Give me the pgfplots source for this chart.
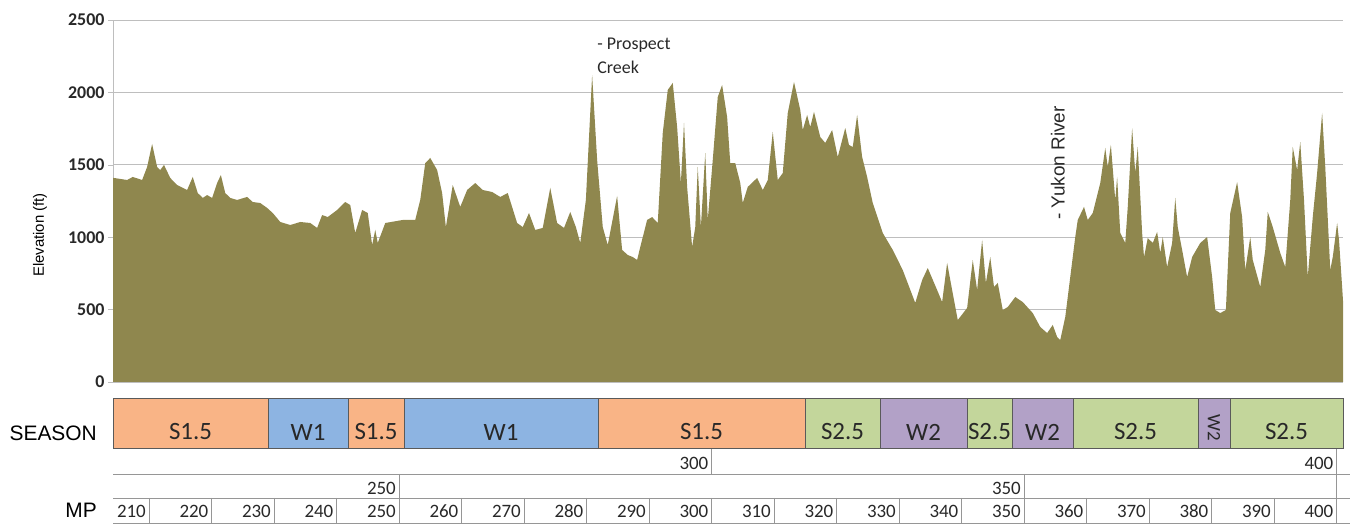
\documentclass[border=0pt]{standalone}
\usepackage{fontspec}
\setmainfont{Carlito}
\newfontfamily\arial{Liberation Sans}
\usepackage{pgfplots}
\pgfplotsset{compat=1.18}
\definecolor{terrain}{RGB}{143,135,78}
\definecolor{sOrange}{RGB}{249,180,134}
\definecolor{wBlue}{RGB}{141,180,226}
\definecolor{sGreen}{RGB}{195,214,155}
\definecolor{wPurple}{RGB}{178,161,199}
\definecolor{gridgray}{RGB}{190,190,190}
\definecolor{tablegray}{RGB}{150,150,150}
\definecolor{segborder}{RGB}{90,90,90}
\definecolor{txt}{RGB}{40,40,40}

\pgfplotstableread{
mp elev
204.24 1410
206.5 1395
207.4 1416
208.9 1395
209.7 1485
210.5 1644
211.3 1485
211.8 1464
212.4 1499
213.4 1409
214.5 1360
216.1 1326
217.0 1416
217.8 1305
218.6 1271
219.3 1291
220.1 1271
220.9 1374
221.5 1429
222.2 1305
223.0 1271
224.1 1257
225.7 1278
226.6 1243
227.8 1236
228.9 1202
229.8 1167
231.0 1105
232.6 1084
234.2 1105
235.8 1098
236.9 1064
237.7 1153
238.6 1139
240.1 1188
241.4 1243
242.2 1222
243.0 1029
244.1 1188
245.0 1167
245.7 946
246.2 1050
246.6 960
247.8 1098
250.6 1119
252.6 1119
253.4 1257
254.2 1512
255.0 1547
256.1 1464
256.9 1305
257.5 1070
258.6 1360
259.8 1209
260.9 1326
262.2 1374
263.4 1326
264.9 1312
266.2 1278
267.4 1305
268.9 1098
269.8 1070
270.8 1167
271.8 1050
273.0 1064
274.2 1340
275.3 1098
276.4 1064
277.4 1174
278.3 1070
279.0 960
279.9 1257
280.9 2120
281.7 1533
282.6 1070
283.4 946
284.9 1285
285.7 912
286.6 877
287.4 863
288.1 843
288.6 932
289.7 1119
290.5 1139
291.4 1098
292.2 1720
293.0 2017
293.8 2065
294.5 1761
295.1 1374
295.6 1789
296.1 1347
296.9 932
297.4 1070
297.8 1485
298.3 1070
299.0 1581
299.4 1119
300.2 1533
301.0 1968
301.7 2051
302.5 1830
303.0 1512
303.8 1512
304.6 1374
305.0 1236
305.8 1347
307.3 1409
308.2 1326
309.0 1395
309.8 1727
310.6 1395
311.4 1443
312.2 1858
313.2 2072
314.2 1879
314.6 1740
315.3 1844
315.8 1761
316.4 1865
317.4 1692
318.2 1651
319.3 1740
320.2 1554
321.4 1754
322.0 1637
322.6 1623
323.3 1844
324.1 1554
324.9 1416
325.8 1236
327.4 1029
329.0 912
330.6 773
332.6 546
333.7 704
334.6 787
336.1 635
336.9 552
337.7 822
338.5 635
339.4 428
340.9 511
341.8 842
342.5 635
343.3 981
343.9 684
344.6 863
345.2 656
345.8 684
346.6 497
347.4 518
348.6 587
349.8 552
351.4 476
352.6 380
353.7 338
354.6 394
355.3 311
355.8 290
356.6 449
357.4 725
358.2 1001
358.6 1119
359.6 1209
360.2 1119
361.0 1167
362.2 1374
363.0 1616
363.4 1485
363.9 1637
364.6 1257
364.9 1416
365.4 1029
366.2 960
366.6 1209
367.3 1754
367.8 1443
368.2 1623
368.9 1029
369.2 863
369.8 994
370.6 960
371.3 1036
371.8 891
372.2 1001
372.9 794
373.7 960
374.2 1271
374.6 1070
375.3 912
376.1 725
376.9 863
378.2 960
379.3 1001
380.1 725
380.6 497
381.4 476
382.3 497
383.0 1167
384.1 1381
384.9 1139
385.4 773
386.2 1001
386.6 843
387.8 656
388.6 912
389.0 1174
389.8 1070
391.0 891
391.8 794
392.6 1257
393.0 1623
393.7 1464
394.2 1657
394.8 1257
395.4 725
396.2 1139
396.9 1443
397.7 1858
398.2 1485
399.0 773
399.4 863
400.1 1098
400.4 981
400.9 656
401.04 560
}\profile

\begin{document}
\begin{tikzpicture}[x=1bp,y=1bp]
\useasboundingbox (0,0) rectangle (1361,525);

% y label
\node[rotate=90, font=\arial\fontsize{15}{15}\selectfont, text=black] at (40,290) {Elevation (ft)};

\begin{axis}[
  at={(113bp,143bp)}, anchor=south west,
  scale only axis, width=1230bp, height=362bp,
  xmin=204.24, xmax=401.04, ymin=0, ymax=2500,
  axis lines=left, axis line style={-, draw=gridgray},
  x axis line style={draw=none},
  xtick=\empty,
  ytick={0,500,1000,1500,2000,2500},
  yticklabels={0,500,1000,1500,2000,2500},
  ymajorgrids, major grid style={draw=gridgray, line width=0.8bp},
  tick style={draw=gridgray}, major tick length=5bp, tick align=outside,
  yticklabel style={font=\bfseries\fontsize{18}{18}\selectfont, text=txt},
  clip=false,
]
\addplot[fill=terrain, draw=none] table[x=mp, y=elev] {\profile} \closedcycle;
\node[anchor=base west, inner sep=0pt, font=\fontsize{18}{18}\selectfont, text=txt] at (axis cs:281.7,2293) {- Prospect};
\node[anchor=base west, inner sep=0pt, font=\fontsize{18}{18}\selectfont, text=txt] at (axis cs:281.7,2127) {Creek};
\node[rotate=90, inner sep=0pt, font=\arial\fontsize{19}{19}\selectfont, text=txt] at (axis cs:355.4,1512) {- Yukon River};
\end{axis}

\begin{axis}[
  at={(113bp,77bp)}, anchor=south west,
  scale only axis, width=1230bp, height=50bp,
  xmin=204.24, xmax=401.04, ymin=0, ymax=1,
  hide axis, clip=false,
]
\addplot[fill=sOrange, draw=segborder] coordinates {(204.24,0)(204.24,1)(229.04,1)(229.04,0)} -- cycle;
\addplot[fill=wBlue, draw=segborder] coordinates {(229.04,0)(229.04,1)(241.84,1)(241.84,0)} -- cycle;
\addplot[fill=sOrange, draw=segborder] coordinates {(241.84,0)(241.84,1)(250.8,1)(250.8,0)} -- cycle;
\addplot[fill=wBlue, draw=segborder] coordinates {(250.8,0)(250.8,1)(281.84,1)(281.84,0)} -- cycle;
\addplot[fill=sOrange, draw=segborder] coordinates {(281.84,0)(281.84,1)(314.96,1)(314.96,0)} -- cycle;
\addplot[fill=sGreen, draw=segborder] coordinates {(314.96,0)(314.96,1)(326.96,1)(326.96,0)} -- cycle;
\addplot[fill=wPurple, draw=segborder] coordinates {(326.96,0)(326.96,1)(340.88,1)(340.88,0)} -- cycle;
\addplot[fill=sGreen, draw=segborder] coordinates {(340.88,0)(340.88,1)(348.08,1)(348.08,0)} -- cycle;
\addplot[fill=wPurple, draw=segborder] coordinates {(348.08,0)(348.08,1)(357.84,1)(357.84,0)} -- cycle;
\addplot[fill=sGreen, draw=segborder] coordinates {(357.84,0)(357.84,1)(377.84,1)(377.84,0)} -- cycle;
\addplot[fill=wPurple, draw=segborder] coordinates {(377.84,0)(377.84,1)(382.96,1)(382.96,0)} -- cycle;
\addplot[fill=sGreen, draw=segborder] coordinates {(382.96,0)(382.96,1)(401.04,1)(401.04,0)} -- cycle;

\node[font=\fontsize{25}{25}\selectfont, text=txt] at (axis cs:216.64,0.32) {S1.5};
\node[font=\fontsize{25}{25}\selectfont, text=txt] at (axis cs:235.44,0.32) {W1};
\node[font=\fontsize{25}{25}\selectfont, text=txt] at (axis cs:246.32,0.32) {S1.5};
\node[font=\fontsize{25}{25}\selectfont, text=txt] at (axis cs:266.32,0.32) {W1};
\node[font=\fontsize{25}{25}\selectfont, text=txt] at (axis cs:298.4,0.32) {S1.5};
\node[font=\fontsize{25}{25}\selectfont, text=txt] at (axis cs:320.96,0.32) {S2.5};
\node[font=\fontsize{25}{25}\selectfont, text=txt] at (axis cs:333.92,0.32) {W2};
\node[font=\fontsize{25}{25}\selectfont, text=txt] at (axis cs:344.48,0.32) {S2.5};
\node[font=\fontsize{25}{25}\selectfont, text=txt] at (axis cs:352.96,0.32) {W2};
\node[font=\fontsize{25}{25}\selectfont, text=txt] at (axis cs:367.84,0.32) {S2.5};
\node[rotate=-90, font=\fontsize{19}{19}\selectfont, text=txt] at (axis cs:380.4,0.4) {W2};
\node[font=\fontsize{25}{25}\selectfont, text=txt] at (axis cs:392.0,0.32) {S2.5};
\end{axis}

% MP table (x of MP v = 399 + (v-250)*6.25)
\draw[tablegray] (113,51) -- (1350,51);
\draw[tablegray] (113,27) -- (1350,27);
\draw[tablegray] (113,2) -- (1350,2);
\foreach \v in {300,400} {\draw[tablegray] ({399+(\v-250)*6.25},76) -- ({399+(\v-250)*6.25},51);}
\foreach \v in {250,350,400} {\draw[tablegray] ({399+(\v-250)*6.25},51) -- ({399+(\v-250)*6.25},27);}
\foreach \v in {210,220,...,400} {\draw[tablegray] ({399+(\v-250)*6.25},27) -- ({399+(\v-250)*6.25},2);}
\foreach \v in {300,400} {\node[anchor=east, inner sep=3bp, font=\fontsize{19}{19}\selectfont, text=txt] at ({399+(\v-250)*6.25},62) {\v};}
\foreach \v in {250,350} {\node[anchor=east, inner sep=3bp, font=\fontsize{19}{19}\selectfont, text=txt] at ({399+(\v-250)*6.25},37) {\v};}
\foreach \v in {210,220,...,400} {\node[anchor=east, inner sep=3bp, font=\fontsize{19}{19}\selectfont, text=txt] at ({399+(\v-250)*6.25},13.5) {\v};}

\node[anchor=east, inner sep=0pt, font=\arial\fontsize{21}{21}\selectfont, text=black] at (97,92) {SEASON};
\node[anchor=east, inner sep=0pt, font=\arial\fontsize{21}{21}\selectfont, text=black] at (97,15) {MP};
\end{tikzpicture}
\end{document}
